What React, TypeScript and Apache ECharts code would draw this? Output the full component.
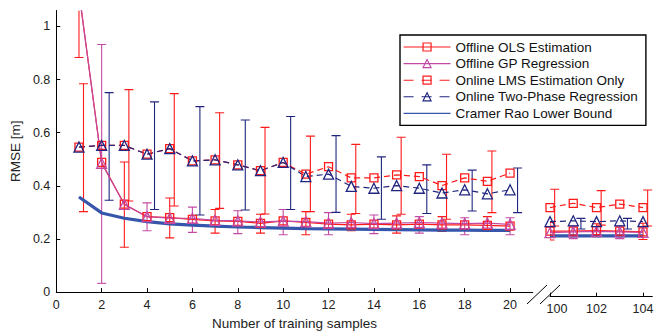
import React, { useEffect, useRef } from "react";
import * as echarts from "echarts";

// ---------- data ----------
const xLeft = [1, 2, 3, 4, 5, 6, 7, 8, 9, 10, 11, 12, 13, 14, 15, 16, 17, 18, 19, 20];
const xRight = [100, 101, 102, 103, 104];

const olsLeft = [1.13, 0.488, 0.331, 0.284, 0.28, 0.274, 0.268, 0.266, 0.259, 0.268, 0.262, 0.256, 0.253, 0.256, 0.253, 0.256, 0.253, 0.253, 0.251, 0.248];
const olsRight = [0.243, 0.243, 0.245, 0.243, 0.24];
const gpLeft = [1.13, 0.485, 0.33, 0.284, 0.278, 0.278, 0.27, 0.268, 0.264, 0.267, 0.265, 0.26, 0.262, 0.258, 0.26, 0.262, 0.26, 0.258, 0.26, 0.255];
const gpRight = [0.237, 0.24, 0.242, 0.24, 0.238];
const lmsLeft = [0.546, 0.552, 0.552, 0.519, 0.54, 0.494, 0.498, 0.479, 0.457, 0.488, 0.444, 0.472, 0.43, 0.43, 0.441, 0.435, 0.401, 0.43, 0.417, 0.448];
const lmsRight = [0.33, 0.346, 0.33, 0.343, 0.33];
const tpLeft = [0.546, 0.552, 0.552, 0.519, 0.54, 0.494, 0.498, 0.479, 0.457, 0.488, 0.435, 0.444, 0.398, 0.391, 0.401, 0.391, 0.373, 0.385, 0.37, 0.385];
const tpRight = [0.278, 0.281, 0.278, 0.281, 0.278];
const crlbLeft = [0.358, 0.298, 0.278, 0.265, 0.257, 0.252, 0.248, 0.245, 0.243, 0.241, 0.239, 0.238, 0.237, 0.236, 0.235, 0.234, 0.233, 0.233, 0.232, 0.232];
const crlbRight = [0.225, 0.225, 0.225, 0.225, 0.225];

// error bars
const olsBarX = [1, 3, 5, 7, 9, 11, 13, 15, 17, 19];
const olsBarLow = [0.883, 0.169, 0.204, 0.222, 0.222, 0.216, 0.231, 0.222, 0.228, 0.228];
const olsBarHigh = [1.4, 0.49, 0.354, 0.311, 0.293, 0.303, 0.293, 0.287, 0.284, 0.284];
const gpBarX = [2, 4, 6, 8, 10, 12, 14, 16, 18, 20];
const gpBarLow = [0.033, 0.231, 0.225, 0.22, 0.216, 0.216, 0.22, 0.222, 0.216, 0.216];
const gpBarHigh = [0.932, 0.336, 0.32, 0.306, 0.311, 0.299, 0.29, 0.284, 0.28, 0.28];
const lmsBarX = [1, 3, 5, 7, 9, 11, 13, 15, 17, 19];
const lmsBarLow = [0.303, 0.343, 0.324, 0.315, 0.294, 0.303, 0.296, 0.293, 0.274, 0.299];
const lmsBarHigh = [0.784, 0.762, 0.747, 0.675, 0.62, 0.587, 0.556, 0.583, 0.519, 0.531];
const tpBarX = [2, 4, 6, 8, 10, 12, 14, 16, 18, 20];
const tpBarLow = [0.346, 0.311, 0.29, 0.309, 0.311, 0.3, 0.274, 0.296, 0.305, 0.299];
const tpBarHigh = [0.751, 0.716, 0.698, 0.648, 0.661, 0.589, 0.509, 0.479, 0.459, 0.467];

const olsBarRX = [100, 102, 104];
const olsBarRLow = [0.21, 0.222, 0.212];
const olsBarRHigh = [0.275, 0.27, 0.272];
const gpBarRX = [101, 103];
const gpBarRLow = [0.215, 0.215];
const gpBarRHigh = [0.262, 0.262];
const lmsBarRX = [100, 102, 104];
const lmsBarRLow = [0.262, 0.265, 0.262];
const lmsBarRHigh = [0.398, 0.393, 0.395];
const tpBarRX = [101, 103];
const tpBarRLow = [0.251, 0.251];
const tpBarRHigh = [0.29, 0.29];

const yTicks = [0, 0.2, 0.4, 0.6, 0.8, 1];

// ---------- styling ----------
const Y_MAX = 1.06;
const RED = "#ff1a1a";
const MAG = "#c24aa4";
const NAVY = "#20267f";
const BLUE = "#3556ab";
const FONT = "'Liberation Sans', Arial, Helvetica, sans-serif";
const CLEAR = "rgba(255,255,255,0)";

const NAMES = [
  "Offline OLS Estimation",
  "Offline GP Regression",
  "Online LMS Estimation Only",
  "Online Two-Phase Regression",
  "Cramer Rao Lower Bound",
];

function lineSeries(name: string, xs: number[], ys: number[], axis: number, color: string, symbol: string, dashed: boolean, width = 1.2) {
  return {
    type: "line",
    name,
    xAxisIndex: axis,
    yAxisIndex: axis,
    data: xs.map((x, i) => [x, ys[i]]),
    symbol,
    symbolSize: symbol === "triangle" ? 10 : 8,
    showSymbol: symbol !== "none",
    color,
    lineStyle: { color, width, type: dashed ? [6, 4] : "solid" },
    itemStyle: { color: CLEAR, borderColor: color, borderWidth: 1.3 },
    emphasis: { disabled: true },
    clip: true,
    z: 3,
  };
}

function barSeries(xs: number[], lows: number[], highs: number[], axis: number, color: string, offset: number) {
  return {
    type: "custom",
    xAxisIndex: axis,
    yAxisIndex: axis,
    silent: true,
    clip: true,
    z: 2,
    data: xs.map((x, i) => [x, lows[i], highs[i]]),
    encode: { x: 0, y: [1, 2] },
    renderItem: (_params: any, api: any) => {
      const x = api.value(0) + offset;
      const lo = api.value(1);
      const hi = api.value(2);
      const top = Math.min(hi, Y_MAX);
      const p1 = api.coord([x, lo]);
      const p2 = api.coord([x, top]);
      const hw = 4.5;
      const style = { stroke: color, lineWidth: 1.1 };
      const children: any[] = [
        { type: "line", shape: { x1: p1[0], y1: p1[1], x2: p2[0], y2: p2[1] }, style },
        { type: "line", shape: { x1: p1[0] - hw, y1: p1[1], x2: p1[0] + hw, y2: p1[1] }, style },
      ];
      if (hi <= Y_MAX) {
        children.push({ type: "line", shape: { x1: p2[0] - hw, y1: p2[1], x2: p2[0] + hw, y2: p2[1] }, style });
      }
      return { type: "group", children };
    },
  };
}

const axisLabelStyle = { fontSize: 12.5, color: "#222", fontFamily: FONT };

const option: any = {
  animation: false,
  backgroundColor: "#fff",
  textStyle: { fontFamily: FONT },
  grid: [
    { left: 55, top: 10.5, width: 477.75, height: 286.2 },
    { left: 550, top: 10.5, width: 102.3, height: 286.2 },
  ],
  xAxis: [
    {
      type: "value",
      gridIndex: 0,
      min: 0,
      max: 21,
      interval: 2,
      axisLine: { show: true, lineStyle: { color: "#000", width: 1 } },
      axisTick: { show: true, inside: true, length: 4, lineStyle: { color: "#000" } },
      axisLabel: { ...axisLabelStyle, margin: 6, showMaxLabel: false },
      splitLine: { show: false },
      name: "Number of training samples",
      nameLocation: "middle",
      nameGap: 22,
      nameTextStyle: { fontSize: 13.5, color: "#222", fontFamily: FONT },
    },
    {
      type: "value",
      gridIndex: 1,
      min: 100,
      max: 104.4,
      interval: 2,
      axisLine: { show: true, lineStyle: { color: "#000", width: 1 } },
      axisTick: { show: true, inside: true, length: 4, lineStyle: { color: "#000" } },
      axisLabel: {
        ...axisLabelStyle,
        margin: 6,
        showMaxLabel: false,
        formatter: (v: number) => (v === 100 ? "{s|" + v + "}" : String(v)),
        rich: { s: { ...axisLabelStyle, padding: [0, 0, 0, 14] } },
      },
      splitLine: { show: false },
    },
  ],
  yAxis: [
    {
      type: "value",
      gridIndex: 0,
      min: 0,
      max: Y_MAX,
      interval: 0.2,
      axisLine: { show: true, lineStyle: { color: "#000", width: 1 } },
      axisTick: { show: true, inside: true, length: 4, lineStyle: { color: "#000" } },
      axisLabel: {
        ...axisLabelStyle,
        margin: 6,
        showMaxLabel: false,
        formatter: (v: number) => {
          const t = yTicks.find((k) => Math.abs(k - v) < 1e-6);
          return t === undefined ? "" : String(t);
        },
      },
      splitLine: { show: false },
      name: "RMSE [m]",
      nameLocation: "middle",
      nameGap: 33,
      nameTextStyle: { fontSize: 13.5, color: "#222", fontFamily: FONT },
    },
    {
      type: "value",
      gridIndex: 1,
      min: 0,
      max: Y_MAX,
      show: false,
      splitLine: { show: false },
    },
  ],
  legend: {
    orient: "vertical",
    left: 400,
    top: 35,
    padding: [5, 8, 5, 3],
    itemWidth: 47,
    itemHeight: 10,
    itemGap: 2.6,
    borderColor: "#000",
    borderWidth: 1.4,
    backgroundColor: "#fff",
    selectedMode: false,
    textStyle: { fontSize: 13.5, color: "#111", fontFamily: FONT },
    data: [
      { name: NAMES[0], lineStyle: { width: 1.1 }, itemStyle: { color: CLEAR, borderColor: RED, borderWidth: 1.2 } },
      { name: NAMES[1], lineStyle: { width: 1.1 }, itemStyle: { color: CLEAR, borderColor: MAG, borderWidth: 1.2 } },
      { name: NAMES[2], lineStyle: { width: 1.1, type: [10, 8] }, itemStyle: { color: CLEAR, borderColor: RED, borderWidth: 1.2 } },
      { name: NAMES[3], lineStyle: { width: 1.1, type: [10, 8] }, itemStyle: { color: CLEAR, borderColor: NAVY, borderWidth: 1.2 } },
      { name: NAMES[4], lineStyle: { width: 1.1 }, itemStyle: { opacity: 0 } },
    ],
  },
  graphic: [
    { type: "line", z: 100, shape: { x1: 527, y1: 304, x2: 547, y2: 285 }, style: { stroke: "#000", lineWidth: 1 } },
    { type: "line", z: 100, shape: { x1: 540, y1: 304, x2: 560, y2: 285 }, style: { stroke: "#000", lineWidth: 1 } },
  ],
  series: [
    barSeries(olsBarX, olsBarLow, olsBarHigh, 0, RED, 0),
    barSeries(gpBarX, gpBarLow, gpBarHigh, 0, MAG, 0),
    barSeries(lmsBarX, lmsBarLow, lmsBarHigh, 0, RED, 0.2),
    barSeries(tpBarX, tpBarLow, tpBarHigh, 0, NAVY, 0.33),
    barSeries(olsBarRX, olsBarRLow, olsBarRHigh, 1, RED, 0),
    barSeries(gpBarRX, gpBarRLow, gpBarRHigh, 1, MAG, 0),
    barSeries(lmsBarRX, lmsBarRLow, lmsBarRHigh, 1, RED, 0.2),
    barSeries(tpBarRX, tpBarRLow, tpBarRHigh, 1, NAVY, 0.33),
    lineSeries(NAMES[0], xLeft, olsLeft, 0, RED, "rect", false),
    lineSeries(NAMES[1], xLeft, gpLeft, 0, MAG, "triangle", false),
    lineSeries(NAMES[2], xLeft, lmsLeft, 0, RED, "rect", true),
    lineSeries(NAMES[3], xLeft, tpLeft, 0, NAVY, "triangle", true),
    lineSeries(NAMES[4], xLeft, crlbLeft, 0, BLUE, "none", false, 3.2),
    lineSeries(NAMES[0], xRight, olsRight, 1, RED, "rect", false),
    lineSeries(NAMES[1], xRight, gpRight, 1, MAG, "triangle", false),
    lineSeries(NAMES[2], xRight, lmsRight, 1, RED, "rect", true),
    lineSeries(NAMES[3], xRight, tpRight, 1, NAVY, "triangle", true),
    lineSeries(NAMES[4], xRight, crlbRight, 1, BLUE, "none", false, 3.2),
  ],
};

export default function App() {
  const ref = useRef<HTMLDivElement>(null);
  useEffect(() => {
    const chart = echarts.init(ref.current!, undefined, { renderer: "svg" });
    chart.setOption(option);
    return () => chart.dispose();
  }, []);
  return <div ref={ref} style={{ position: "absolute", left: 0, top: 0, width: 665, height: 335 }} />;
}
